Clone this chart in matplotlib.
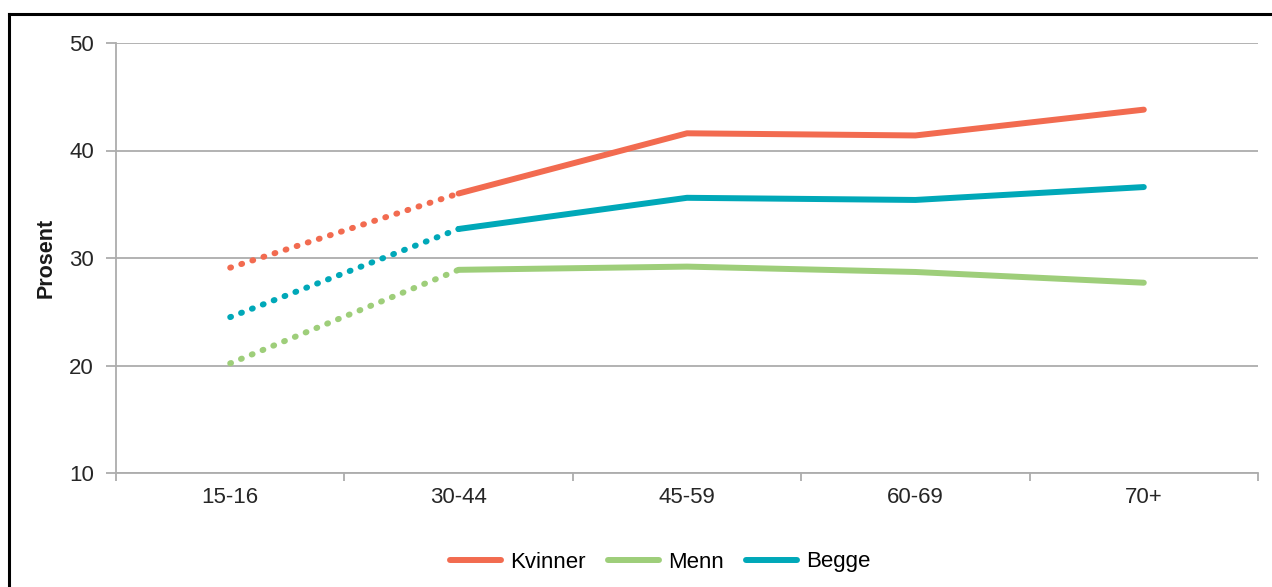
import matplotlib
matplotlib.use("Agg")
import matplotlib.pyplot as plt
from matplotlib.lines import Line2D
import numpy as np

plt.rcParams['font.family'] = ['Liberation Sans', 'DejaVu Sans']

categories = ["15-16", "30-44", "45-59", "60-69", "70+"]
kvinner = [29.1, 36.0, 41.6, 41.4, 43.8]
menn = [20.2, 28.9, 29.2, 28.7, 27.7]
begge = [24.5, 32.7, 35.6, 35.4, 36.6]
y_ticks = [10, 20, 30, 40, 50]

series = [
    ("Kvinner", kvinner, "#F26B50"),
    ("Menn", menn, "#9ECE7A"),
    ("Begge", begge, "#00A8B8"),
]

fig = plt.figure(figsize=(12.72, 5.87), dpi=100)
ax = fig.add_axes([116 / 1272, 114 / 587, 1142 / 1272, 430 / 587])

x = np.arange(len(categories))
lw = 4.3
handles = []
for name, vals, color in series:
    # first interval (15-16 to 30-44) drawn dotted, the rest solid
    ax.plot(x[:2], vals[:2], color=color, lw=lw,
            linestyle=(0, (0.15, 1.8)), dash_capstyle='round', zorder=3)
    ax.plot(x[1:], vals[1:], color=color, lw=lw,
            solid_capstyle='round', solid_joinstyle='round', zorder=3)
    handles.append(Line2D([], [], color=color, lw=lw, solid_capstyle='round', label=name))

grid_color = "#ADADAD"
ax.set_xlim(-0.5, len(categories) - 0.5)
ax.set_ylim(10, 50)
ax.set_yticks(y_ticks)
ax.yaxis.grid(True, color=grid_color, lw=1.3)
ax.set_axisbelow(True)

ax.set_xticks(x)
ax.set_xticklabels(categories)
ax.set_xticks(np.arange(-0.5, len(categories), 1.0), minor=True)
ax.tick_params(axis='x', which='major', length=0, pad=10, labelsize=16, labelcolor="#262626")
ax.tick_params(axis='x', which='minor', length=6, width=1.3, color=grid_color, direction='out')
ax.tick_params(axis='y', length=7, width=1.3, color=grid_color, pad=9,
               labelsize=16, labelcolor="#262626")

for side in ("top", "right"):
    ax.spines[side].set_visible(False)
for side in ("left", "bottom"):
    ax.spines[side].set_color(grid_color)
    ax.spines[side].set_linewidth(1.3)

ax.set_ylabel("Prosent", fontsize=15.5, fontweight='bold', color="#1a1a1a", labelpad=9)

fig.legend(handles=handles, loc='center', bbox_to_anchor=(660 / 1272, 25 / 587),
           ncol=3, frameon=False, fontsize=16, handlelength=2.3,
           handletextpad=0.4, columnspacing=1.0)

# outer frame: top and left edges
fig.add_artist(Line2D([9 / 1272, 9 / 1272], [0, 1 - 14 / 587], transform=fig.transFigure,
                      color='black', lw=2.2))
fig.add_artist(Line2D([9 / 1272, 1], [1 - 14 / 587, 1 - 14 / 587], transform=fig.transFigure,
                      color='black', lw=2.2))

fig.savefig("out.png", dpi=100, facecolor='white')
